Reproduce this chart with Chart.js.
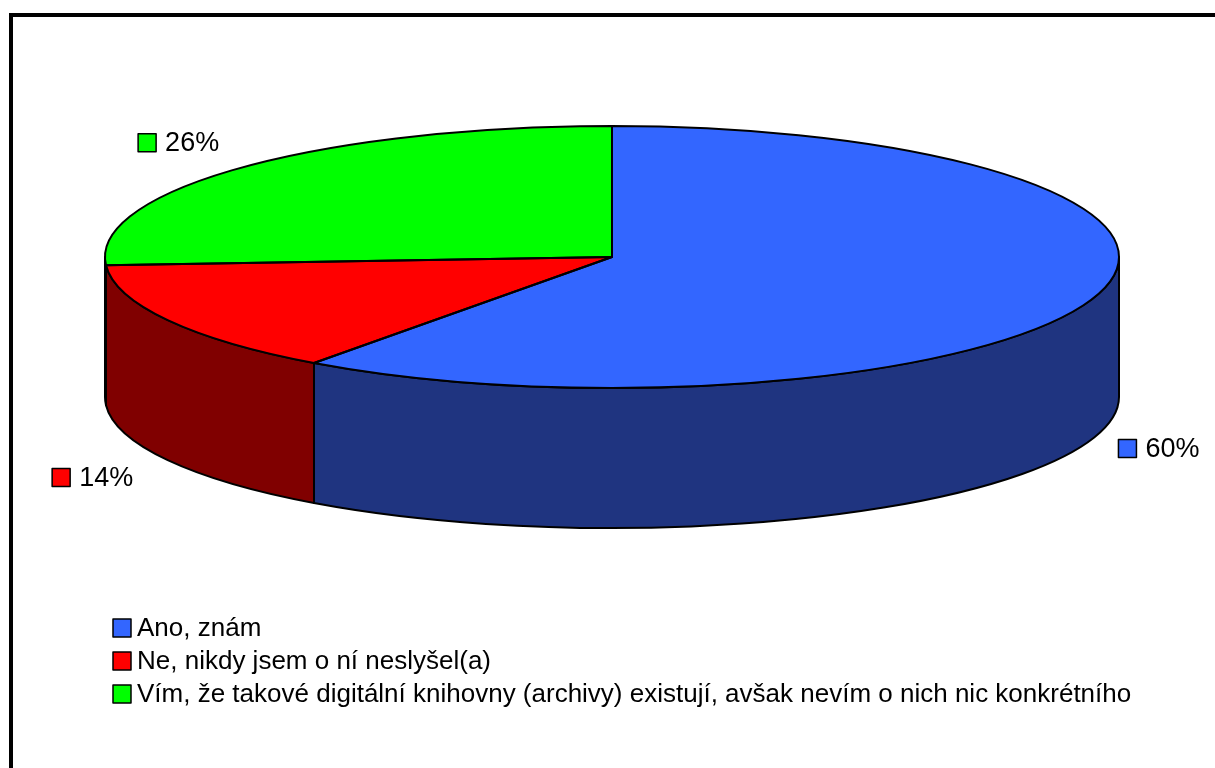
<!DOCTYPE html>
<html>
<head>
    <meta charset="utf-8">
    <title>Digitální knihovny</title>
    <script src="https://cdn.jsdelivr.net/npm/chart.js"></script>
    <style>
        body { margin: 0; background: #fff; overflow: hidden; }
        #frame { position: absolute; left: 9px; top: 13px; width: 1300px; height: 900px; border: 4px solid #000; }
        #pieChart { position: absolute; left: 0; top: 0; }
    </style>
</head>
<body>
    <div id="frame"></div>
    <canvas id="pieChart" width="1215" height="768"></canvas>
    <script>
        const categories = [
            'Ano, znám',
            'Ne, nikdy jsem o ní neslyšel(a)',
            'Vím, že takové digitální knihovny (archivy) existují, avšak nevím o nich nic konkrétního'
        ];
        const shares = [60, 14, 26];
        const topColors = ['#3366ff', '#ff0000', '#00ff00'];
        const sideColors = ['#1f3480', '#800000', '#008000'];

        // ellipse of the 3d pie: half axes and thickness
        const RX = 507, RY = 131, DEPTH = 140;
        const FONT = '"Liberation Sans", Arial, sans-serif';

        function drawKey(ctx, x, y, color) {
            ctx.fillStyle = color;
            ctx.fillRect(x, y - 9, 18, 18);
            ctx.lineWidth = 1.5;
            ctx.strokeStyle = '#000';
            ctx.strokeRect(x, y - 9, 18, 18);
        }

        const pie3d = {
            id: 'pie3d',
            beforeDatasetsDraw(chart) {
                const ctx = chart.ctx;
                const arcs = chart.getDatasetMeta(0).data;
                const cx = arcs[0].x, cy = arcs[0].y, r = arcs[0].outerRadius;

                // side walls, only the front half (0..PI) can be seen
                ctx.save();
                ctx.lineWidth = 2;
                ctx.strokeStyle = '#000';
                ctx.lineJoin = 'round';
                arcs.forEach((arc, i) => {
                    for (const k of [-2 * Math.PI, 0, 2 * Math.PI]) {
                        const a0 = Math.max(arc.startAngle - k, 0);
                        const a1 = Math.min(arc.endAngle - k, Math.PI);
                        if (a1 <= a0) continue;
                        ctx.beginPath();
                        ctx.ellipse(cx, cy, RX, RY, 0, a0, a1, false);
                        ctx.lineTo(cx + RX * Math.cos(a1), cy + DEPTH + RY * Math.sin(a1));
                        ctx.ellipse(cx, cy + DEPTH, RX, RY, 0, a1, a0, true);
                        ctx.closePath();
                        ctx.fillStyle = sideColors[i];
                        ctx.fill();
                        ctx.stroke();
                    }
                });
                ctx.restore();

                // squash the round pie of the library into the top face
                ctx.save();
                ctx.translate(cx, cy);
                ctx.scale(RX / r, RY / r);
                ctx.translate(-cx, -cy);
            },
            afterDatasetsDraw(chart) {
                const ctx = chart.ctx;
                ctx.restore();

                const arcs = chart.getDatasetMeta(0).data;
                const cx = arcs[0].x, cy = arcs[0].y;

                // outlines of the top face
                ctx.save();
                ctx.lineWidth = 2;
                ctx.strokeStyle = '#000';
                ctx.lineJoin = 'round';
                arcs.forEach(arc => {
                    ctx.beginPath();
                    ctx.moveTo(cx, cy);
                    ctx.ellipse(cx, cy, RX, RY, 0, arc.startAngle, arc.endAngle, false);
                    ctx.closePath();
                    ctx.stroke();
                });

                // percentage labels round the pie
                const total = shares.reduce((a, b) => a + b, 0);
                ctx.font = '27px ' + FONT;
                ctx.textBaseline = 'middle';
                arcs.forEach((arc, i) => {
                    const m = (arc.startAngle + arc.endAngle) / 2;
                    const text = Math.round(shares[i] / total * 100) + '%';
                    const w = 27 + ctx.measureText(text).width;
                    const bx = cx - 8 + Math.cos(m) * (RX + 36 + w / 2) - w / 2;
                    const by = cy + Math.sin(m) * (RY * 1.19 + 11) + (Math.sin(m) > 0 ? DEPTH : 0);
                    drawKey(ctx, bx, by, topColors[i]);
                    ctx.fillStyle = '#000';
                    ctx.fillText(text, bx + 27, by + 1);
                });

                // legend
                ctx.font = '26px ' + FONT;
                categories.forEach((c, i) => {
                    const y = 628 + i * 33;
                    drawKey(ctx, 113, y, topColors[i]);
                    ctx.fillStyle = '#000';
                    ctx.fillText(c, 137, y + 1);
                });
                ctx.restore();
            }
        };

        const ctx = document.getElementById('pieChart').getContext('2d');
        new Chart(ctx, {
            type: 'pie',
            data: {
                labels: categories,
                datasets: [{
                    data: shares,
                    backgroundColor: topColors,
                    borderWidth: 0,
                    hoverOffset: 0,
                    clip: false
                }]
            },
            options: {
                responsive: false,
                animation: false,
                events: [],
                layout: { padding: { left: 9, right: 0, top: 0, bottom: 254 } },
                plugins: {
                    legend: { display: false },
                    tooltip: { enabled: false }
                }
            },
            plugins: [pie3d]
        });
    </script>
</body>
</html>
